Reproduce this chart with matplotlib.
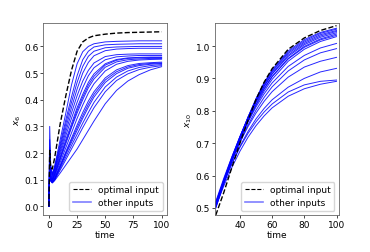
import matplotlib
matplotlib.use("Agg")
import matplotlib.pyplot as plt
from matplotlib.lines import Line2D

# ---- left panel: x_6 over the full horizon ----
t_left = [0, 0.7, 1.5, 3, 5, 10, 15, 20, 25, 30, 35, 40, 50, 60, 70, 80, 90, 100]
x6_optimal = [0, 0.21, 0.15, 0.14, 0.18, 0.31, 0.415, 0.51, 0.582, 0.617, 0.632, 0.64,
              0.646, 0.65, 0.652, 0.653, 0.654, 0.655]
x6_others = [
    [0, 0.30, 0.16, 0.12, 0.15, 0.25, 0.35, 0.455, 0.535, 0.58, 0.60, 0.61, 0.617, 0.619, 0.62, 0.621, 0.621, 0.621],
    [0, 0.25, 0.15, 0.12, 0.145, 0.235, 0.325, 0.41, 0.49, 0.55, 0.582, 0.598, 0.606, 0.608, 0.609, 0.61, 0.61, 0.61],
    [0, 0.22, 0.14, 0.115, 0.14, 0.225, 0.31, 0.39, 0.465, 0.525, 0.563, 0.582, 0.595, 0.598, 0.599, 0.6, 0.6, 0.6],
    [0, 0.20, 0.13, 0.11, 0.135, 0.215, 0.295, 0.37, 0.44, 0.50, 0.54, 0.565, 0.584, 0.59, 0.592, 0.593, 0.593, 0.593],
    [0, 0.18, 0.12, 0.105, 0.13, 0.205, 0.28, 0.35, 0.415, 0.47, 0.51, 0.538, 0.562, 0.569, 0.571, 0.572, 0.572, 0.572],
    [0, 0.17, 0.12, 0.10, 0.125, 0.195, 0.265, 0.33, 0.39, 0.445, 0.49, 0.52, 0.55, 0.561, 0.564, 0.566, 0.566, 0.566],
    [0, 0.16, 0.11, 0.10, 0.12, 0.185, 0.25, 0.31, 0.37, 0.42, 0.465, 0.497, 0.535, 0.551, 0.557, 0.559, 0.56, 0.56],
    [0, 0.15, 0.11, 0.095, 0.115, 0.175, 0.235, 0.295, 0.35, 0.40, 0.445, 0.478, 0.522, 0.542, 0.55, 0.553, 0.555, 0.555],
    [0, 0.14, 0.105, 0.095, 0.11, 0.165, 0.22, 0.275, 0.33, 0.38, 0.425, 0.46, 0.508, 0.533, 0.544, 0.549, 0.551, 0.552],
    [0, 0.14, 0.10, 0.092, 0.105, 0.155, 0.205, 0.255, 0.305, 0.352, 0.395, 0.43, 0.482, 0.512, 0.528, 0.536, 0.539, 0.541],
    [0, 0.13, 0.10, 0.09, 0.102, 0.148, 0.195, 0.24, 0.285, 0.33, 0.372, 0.41, 0.465, 0.498, 0.518, 0.528, 0.533, 0.536],
    [0, 0.13, 0.10, 0.09, 0.10, 0.142, 0.185, 0.228, 0.27, 0.312, 0.352, 0.39, 0.448, 0.485, 0.508, 0.521, 0.528, 0.532],
    [0, 0.12, 0.095, 0.088, 0.098, 0.136, 0.175, 0.215, 0.255, 0.295, 0.333, 0.37, 0.43, 0.472, 0.497, 0.513, 0.522, 0.528],
    [0, 0.12, 0.095, 0.088, 0.096, 0.125, 0.155, 0.185, 0.215, 0.25, 0.285, 0.32, 0.385, 0.435, 0.47, 0.494, 0.512, 0.524],
    [0, 0.16, 0.11, 0.098, 0.118, 0.18, 0.242, 0.30, 0.36, 0.41, 0.455, 0.488, 0.53, 0.548, 0.555, 0.557, 0.558, 0.558],
    [0, 0.13, 0.10, 0.09, 0.103, 0.15, 0.2, 0.248, 0.295, 0.34, 0.383, 0.42, 0.474, 0.505, 0.523, 0.532, 0.536, 0.538],
]

# ---- right panel: x_10 from t = 25 on ----
t_right = [25, 30, 35, 40, 45, 50, 55, 60, 70, 80, 90, 100]
x10_optimal = [0.478, 0.548, 0.625, 0.70, 0.77, 0.835, 0.888, 0.93, 0.99, 1.025, 1.048, 1.063]
x10_others = [
    [0.50, 0.575, 0.648, 0.716, 0.78, 0.838, 0.887, 0.927, 0.985, 1.02, 1.042, 1.055],
    [0.505, 0.58, 0.652, 0.718, 0.78, 0.836, 0.884, 0.923, 0.981, 1.016, 1.039, 1.052],
    [0.51, 0.585, 0.655, 0.72, 0.78, 0.834, 0.881, 0.92, 0.977, 1.012, 1.035, 1.048],
    [0.50, 0.575, 0.646, 0.712, 0.773, 0.828, 0.876, 0.915, 0.972, 1.008, 1.031, 1.045],
    [0.515, 0.588, 0.657, 0.72, 0.778, 0.83, 0.875, 0.913, 0.968, 1.004, 1.027, 1.041],
    [0.505, 0.578, 0.647, 0.71, 0.768, 0.82, 0.866, 0.905, 0.962, 0.999, 1.022, 1.037],
    [0.52, 0.592, 0.658, 0.72, 0.776, 0.826, 0.869, 0.906, 0.96, 0.996, 1.019, 1.033],
    [0.51, 0.582, 0.65, 0.712, 0.768, 0.817, 0.86, 0.897, 0.953, 0.99, 1.014, 1.029],
    [0.515, 0.586, 0.652, 0.712, 0.765, 0.812, 0.852, 0.886, 0.937, 0.971, 0.994, 1.008],
    [0.51, 0.58, 0.645, 0.704, 0.756, 0.802, 0.841, 0.874, 0.923, 0.957, 0.979, 0.992],
    [0.515, 0.584, 0.646, 0.702, 0.751, 0.793, 0.829, 0.859, 0.904, 0.935, 0.953, 0.965],
    [0.51, 0.577, 0.637, 0.69, 0.736, 0.775, 0.807, 0.834, 0.873, 0.90, 0.92, 0.931],
    [0.515, 0.58, 0.637, 0.687, 0.73, 0.766, 0.796, 0.821, 0.858, 0.88, 0.891, 0.895],
    [0.505, 0.568, 0.625, 0.675, 0.718, 0.754, 0.784, 0.809, 0.845, 0.868, 0.882, 0.891],
]

plt.rcParams["font.size"] = 6.5

fig = plt.figure(figsize=(3.7, 2.53), dpi=100)
ax1 = fig.add_axes([0.117, 0.146, 0.335, 0.759])
ax2 = fig.add_axes([0.581, 0.146, 0.335, 0.759])

for ys in x6_others:
    ax1.plot(t_left, ys, color="blue", lw=0.7, alpha=0.85)
ax1.plot(t_left, x6_optimal, color="black", ls="--", lw=1.0)
ax1.set_xticks([0, 25, 50, 75, 100])
ax1.set_ylabel("$x_6$", labelpad=1)
ax1.set_xlabel("time", labelpad=0.5)

for ys in x10_others:
    ax2.plot(t_right, ys, color="blue", lw=0.7, alpha=0.85)
ax2.plot(t_right, x10_optimal, color="black", ls="--", lw=1.0)
ax2.set_xlim(24.5, 101.5)
ax2.set_ylim(0.478, 1.071)
ax2.set_xticks([40, 60, 80, 100])
ax2.set_ylabel("$x_{10}$", labelpad=1)
ax2.set_xlabel("time", labelpad=0.5)

handles = [Line2D([], [], color="black", ls="--", lw=0.8),
           Line2D([], [], color="blue", lw=1.2, alpha=0.5)]
for ax in (ax1, ax2):
    ax.tick_params(length=2, width=0.5, pad=1.5)
    for s in ax.spines.values():
        s.set_linewidth(0.6)
        s.set_color("0.4")
    ax.legend(handles, ["optimal input", "other inputs"], loc="lower right",
              fontsize=6.5, handlelength=2.0, borderpad=0.4, labelspacing=0.4)

fig.savefig("out.png", dpi=100)
